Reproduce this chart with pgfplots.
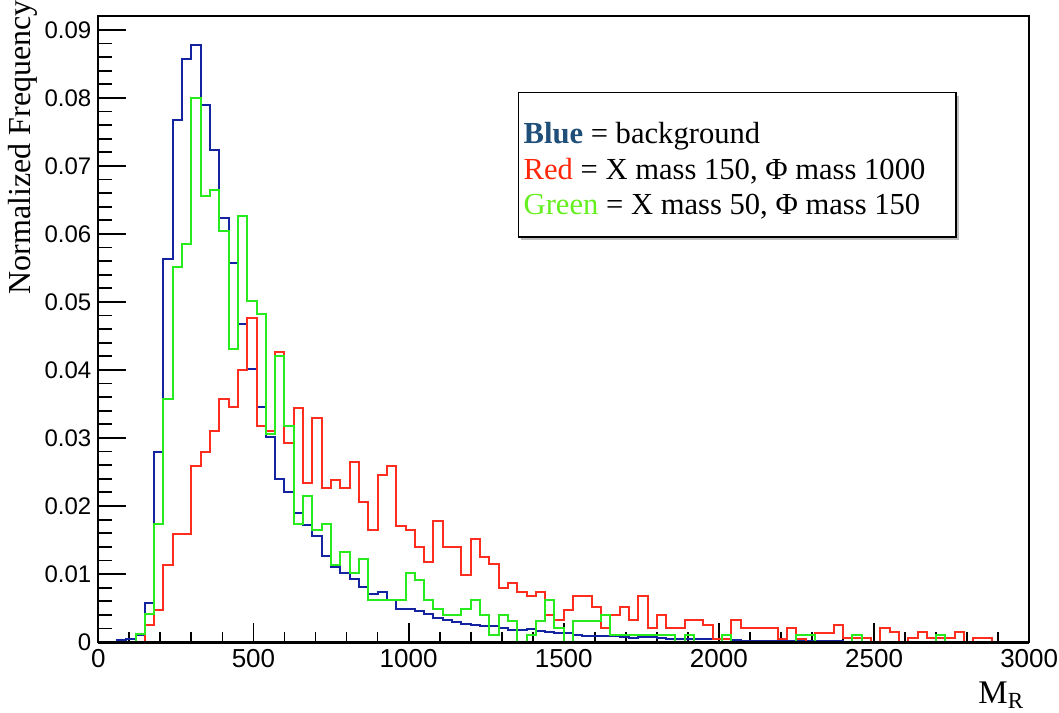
\documentclass[border=0pt]{standalone}
\usepackage{fontspec}
\setmainfont{Liberation Serif}
\setsansfont{Liberation Sans}
\usepackage{pgfplots}
\usepackage{pgfplotstable}
\pgfplotsset{compat=1.18}
\usetikzlibrary{calc}
\definecolor{hblue}{RGB}{20,35,160}
\definecolor{hred}{RGB}{255,45,30}
\definecolor{hgreen}{RGB}{40,235,30}
\definecolor{tblue}{RGB}{31,78,121}
\definecolor{tred}{RGB}{255,38,10}
\definecolor{tgreen}{RGB}{100,240,30}

\pgfplotstableread{
x b r g
0 0 0 0
30 0 0 0
60 0.0003 0 0
90 0.0005 0 0
120 0.0010 0 0.0012
150 0.0057 0.0025 0.0041
180 0.0280 0.0047 0.0174
210 0.0563 0.0113 0.0358
240 0.0767 0.0159 0.0552
270 0.0858 0.0159 0.0585
300 0.0878 0.0259 0.0800
330 0.0790 0.0279 0.0656
360 0.0724 0.0311 0.0665
390 0.0623 0.0357 0.0604
420 0.0558 0.0345 0.0431
450 0.0468 0.0400 0.0626
480 0.0402 0.0477 0.0502
510 0.0345 0.0318 0.0483
540 0.0301 0.0311 0.0306
570 0.0240 0.0427 0.0421
600 0.0221 0.0292 0.0318
630 0.0190 0.0344 0.0174
660 0.0172 0.0234 0.0215
690 0.0156 0.0330 0.0164
720 0.0127 0.0226 0.0174
750 0.0110 0.0238 0.0113
780 0.0101 0.0226 0.0133
810 0.0093 0.0264 0.0101
840 0.0081 0.0206 0.0122
870 0.0071 0.0165 0.0062
900 0.0074 0.0246 0.0062
930 0.0062 0.0259 0.0062
960 0.0049 0.0171 0.0062
990 0.0049 0.0164 0.0101
1020 0.0045 0.0139 0.0091
1050 0.0041 0.0118 0.0062
1080 0.0035 0.0178 0.0049
1110 0.0033 0.0140 0.0040
1140 0.0029 0.0140 0.0040
1170 0.0027 0.0099 0.0049
1200 0.0025 0.0152 0.0062
1230 0.0023 0.0125 0.0040
1260 0.0023 0.0114 0.0010
1290 0.0020 0.0079 0.0040
1320 0.0018 0.0087 0.0031
1350 0.0018 0.0073 0
1380 0.0019 0.0067 0.0010
1410 0.0016 0.0073 0.0031
1440 0.0014 0.0040 0.0062
1470 0.0013 0.0032 0.0020
1500 0.0013 0.0047 0
1530 0.0010 0.0067 0.0031
1560 0.0009 0.0067 0.0031
1590 0.0009 0.0052 0.0031
1620 0.0009 0.0020 0.0040
1650 0.0009 0.0040 0.0010
1680 0.0008 0.0052 0.0010
1710 0.0006 0.0032 0.0010
1740 0.0007 0.0067 0.0010
1770 0.0007 0.0020 0.0010
1800 0.0006 0.0040 0.0010
1830 0.0005 0.0020 0.0010
1860 0.0005 0.0020 0
1890 0.0005 0.0033 0.0010
1920 0.0005 0.0033 0
1950 0.0004 0.0025 0
1980 0.0004 0.0005 0
2010 0.0004 0.0005 0.0010
2040 0.0003 0.0033 0
2070 0.0002 0.0020 0
2100 0.0002 0.0020 0
2130 0.0002 0.0020 0
2160 0.0002 0.0020 0
2190 0.0001 0.0005 0
2220 0.0001 0.0020 0
2250 0.0001 0.0005 0.0010
2280 0.0001 0 0.0010
2310 0.0001 0.0013 0
2340 0.0001 0.0013 0
2370 0.0001 0.0025 0
2400 0 0.0006 0
2430 0 0.0006 0.0011
2460 0 0.0006 0
2490 0 0 0
2520 0 0.0021 0
2550 0 0.0014 0
2580 0 0 0
2610 0 0.0006 0
2640 0 0.0014 0
2670 0 0.0006 0
2700 0 0.0006 0.0011
2730 0 0.0006 0
2760 0 0.0014 0
2790 0 0 0
2820 0 0.0006 0
2850 0 0.0006 0
2880 0 0 0
2910 0 0 0
2940 0 0 0
2970 0 0 0
3000 0 0 0
}\hdata

\begin{document}
\begin{tikzpicture}
\begin{axis}[
  scale only axis,
  width=465.45pt, height=312.8pt,
  xmin=0, xmax=3000, ymin=0, ymax=0.092,
  xtick={0,500,1000,1500,2000,2500,3000},
  ytick={0,0.01,0.02,0.03,0.04,0.05,0.06,0.07,0.08,0.09},
  minor x tick num=4, minor y tick num=4,
  tick align=inside, tick pos=left,
  scaled y ticks=false,
  axis line style={line width=1pt},
  tick style={line width=0.9pt, black},
  xtick style={/pgfplots/major tick length=9.5pt, /pgfplots/minor tick length=5pt},
  ytick style={/pgfplots/major tick length=14pt, /pgfplots/minor tick length=7pt},
  /pgf/number format/assume math mode=true,
  /pgf/number format/1000 sep={},
  yticklabel style={font=\sffamily\fontsize{12}{12}\selectfont,
    /pgf/number format/fixed, /pgf/number format/precision=2},
  xticklabel style={font=\sffamily\fontsize{13}{13}\selectfont},
  clip=false,
]
\addplot[const plot mark left, hblue, line width=1pt] table[x=x,y=b] {\hdata};
\addplot[const plot mark left, hred, line width=1pt] table[x=x,y=r] {\hdata};
\addplot[const plot mark left, hgreen, line width=1pt] table[x=x,y=g] {\hdata};
\draw[black, line width=1.5pt] (axis cs:0,0) -- (axis cs:3000,0);
\end{axis}
\coordinate (O) at (current axis.south west);
\coordinate (NE) at (current axis.north east);
\coordinate (SE) at (current axis.south east);
% legend box
\fill[black!25] ($(O)+(211.5pt,200.8pt)$) rectangle ($(O)+(430.3pt,273.1pt)$);
\draw[fill=white, line width=0.8pt] ($(O)+(210pt,202.35pt)$) rectangle ($(O)+(428.85pt,274.65pt)$);
\node[anchor=base west, inner sep=0, font=\fontsize{15.3}{18}\selectfont] at ($(O)+(212.5pt,249pt)$) {\textbf{\color{tblue}Blue} = background};
\node[anchor=base west, inner sep=0, font=\fontsize{15.3}{18}\selectfont] at ($(O)+(212.5pt,231pt)$) {{\color{tred}Red} = X mass 150, Φ mass 1000};
\node[anchor=base west, inner sep=0, font=\fontsize{15.3}{18}\selectfont] at ($(O)+(212.5pt,213.5pt)$) {{\color{tgreen}Green} = X mass 50, Φ mass 150};
% axis titles
\node[xshift=-45.15pt, yshift=8.2pt, rotate=90, anchor=north east, inner sep=0, font=\fontsize{16}{16}\selectfont] at (current axis.north west) {Normalized Frequency};
\node[anchor=base west, inner sep=0, font=\fontsize{16.5}{16.5}\selectfont] at ($(SE)+(-25.6pt,-30.5pt)$) {M\textsubscript{R}};
\pgfresetboundingbox
\useasboundingbox ($(O)+(-49.15pt,-35pt)$) rectangle ($(NE)+(14.9pt,8.2pt)$);
\end{tikzpicture}
\end{document}
